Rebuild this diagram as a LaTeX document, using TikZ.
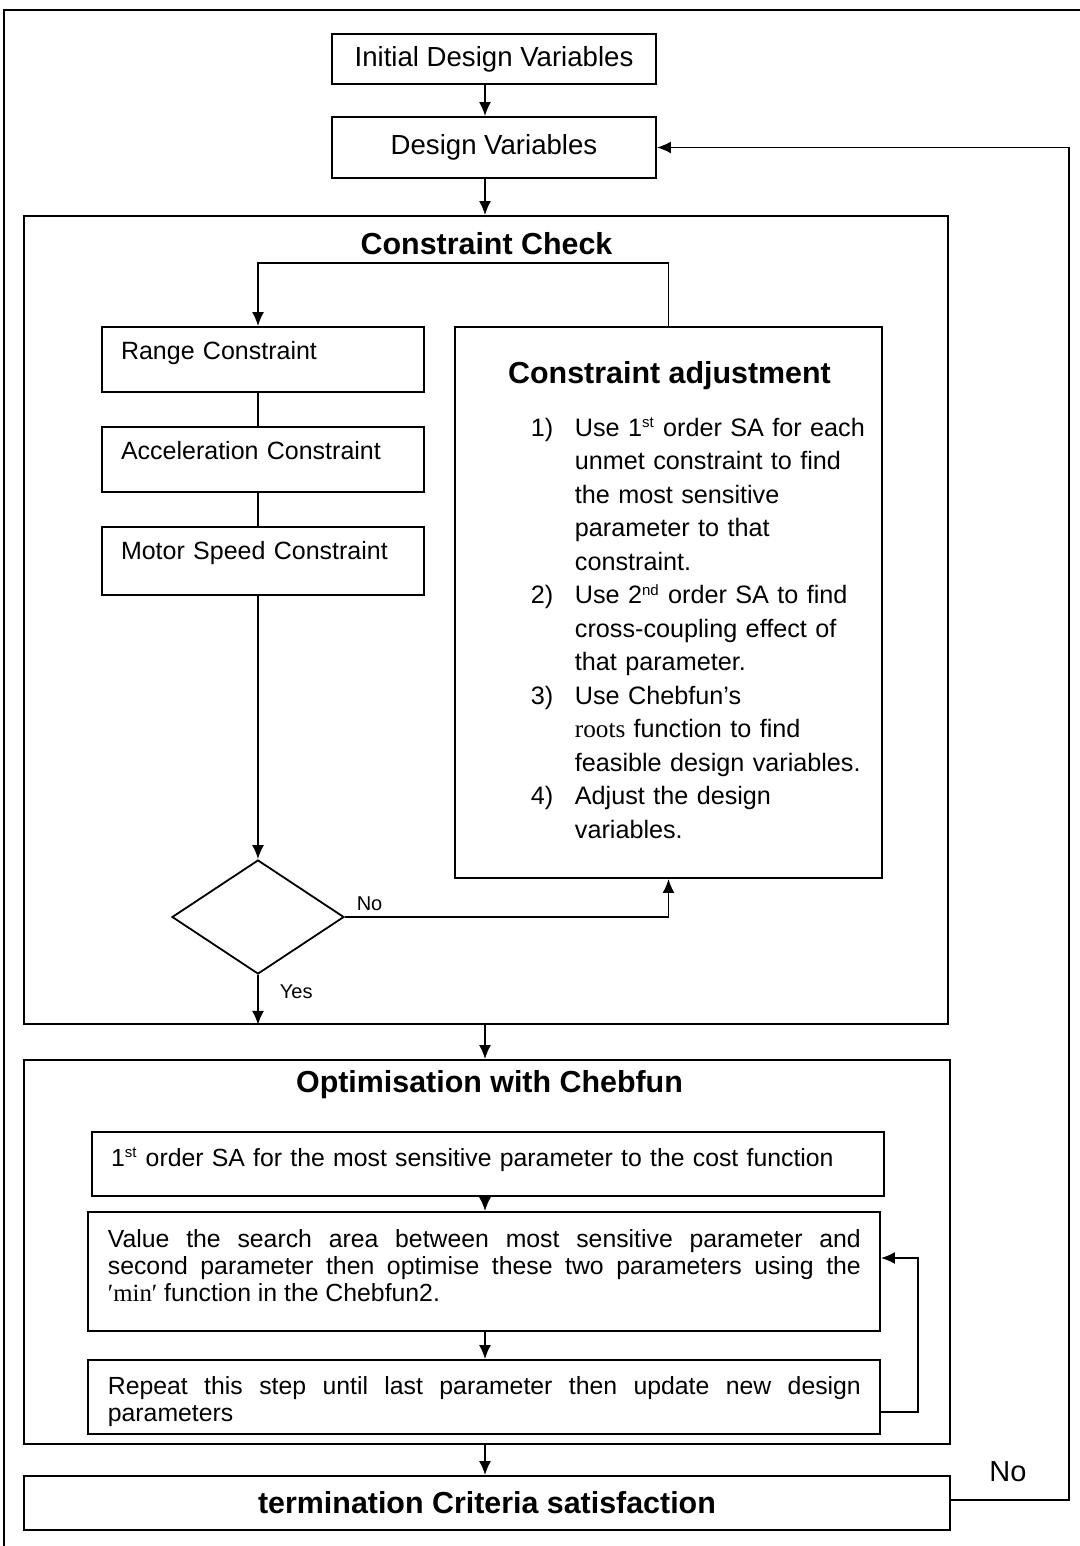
\documentclass[tikz,border=0pt]{standalone}
\usepackage{fontspec}
\setmainfont{Liberation Sans}
\newfontfamily\codefont{Liberation Serif}
\usetikzlibrary{shapes.geometric,arrows.meta}
\newcommand{\adjitem}[1]{\leavevmode\llap{\makebox[22pt][l]{#1}}}
\newcommand{\ordsuf}[1]{\textsuperscript{\fontsize{7.5}{8}\selectfont #1}}

\begin{document}
\begin{tikzpicture}[x=0.5pt,y=-0.5pt,
		line width=0.9pt,
		arr/.style={-{Latex[length=7pt,width=6pt]}},
		frame/.style={draw, inner sep=0pt},
		mainbox/.style={draw, minimum width=162pt, inner sep=0pt,
			font=\fontsize{13.8}{16}\selectfont},
		conbox/.style={draw, text width=142pt, align=left,
			inner xsep=9.5pt, inner ysep=0pt, text height=16pt,
			font=\fontsize{12.5}{15}\selectfont},
		head/.style={font=\bfseries\fontsize{15.2}{18}\selectfont},
		body/.style={font=\fontsize{12.4}{13.5}\selectfont, inner sep=0pt},
		yesno/.style={font=\fontsize{10}{12}\selectfont, inner sep=0pt}
	]
		\useasboundingbox (0,0) rectangle (1080,1546);
		% outer frame, only top and left edge
		\draw (4,1546) -- (4,10) -- (1080,10);
		% main flow line and lane of the checks
		\coordinate (spine) at (485,0);
		\coordinate (lane) at (258,0);

		% design variables
		\node[mainbox, minimum height=25pt] (init) at (494,59) {Initial Design Variables};
		\node[mainbox, minimum height=30.5pt] (design) at (494,147.5) {Design Variables};
		\draw[arr] (init.south -| spine) -- (design.north -| spine);

		% constraint check
		\node[frame, minimum width=462pt, minimum height=404pt] (ccframe) at (486,620) {};
		\node[head] (cctitle) at (486.5,244) {Constraint Check};
		\draw[arr] (design.south -| spine) -- (ccframe.north -| spine);

		\node[conbox, text depth=16.5pt] (range) at (263,359.5) {Range Constraint};
		\node[conbox, text depth=16.5pt] (accel) at (263,459.5) {Acceleration Constraint};
		\node[conbox, text depth=18pt] (motor) at (263,561) {Motor Speed Constraint};
		\draw (range.south -| lane) -- (accel.north -| lane);
		\draw (accel.south -| lane) -- (motor.north -| lane);

		% decision
		\node[draw, diamond, minimum width=86pt, minimum height=57pt,
		inner sep=0pt] (check) at (258,917) {};
		\draw[arr] (motor.south -| lane) -- (check.north);

		% constraint adjustment
		\node[frame, minimum width=213.5pt, minimum height=275.5pt] (adj) at (668.5,602.5) {};
		\node[head] (adjtitle) at (669.5,376) {Constraint adjustment};
		\node[font=\fontsize{12.6}{16.75}\selectfont, inner sep=0pt,
		text width=150pt, align=left, anchor=north west] (adjsteps) at (574,417) {%
			\adjitem{1)}Use 1\ordsuf{st} order SA for each\\
			unmet constraint to find\\
			the most sensitive\\
			parameter to that\\
			constraint.\\
			\adjitem{2)}Use 2\ordsuf{nd} order SA to find\\
			cross-coupling effect of\\
			that parameter.\\
			\adjitem{3)}Use Chebfun’s\\
			{\codefont roots} function to find\\
			feasible design variables.\\
			\adjitem{4)}Adjust the design\\
			variables.};
		\draw[arr] (adj.north) -- ++(0,-63) -| (range.north -| lane);

		% yes / no branches
		\draw[arr] (check.east) -| (adj.south);
		\node[yesno, anchor=base west] (nolabel) at ([xshift=5.5pt, yshift=3.4pt]check.east) {No};
		\draw[arr] (check.south) -- (check.south |- ccframe.south);
		\node[yesno, anchor=base west] (yeslabel) at ([xshift=10.5pt, yshift=-11.6pt]check.south) {Yes};

		% optimisation
		\node[frame, minimum width=463pt, minimum height=192pt] (optframe) at (487,1252) {};
		\draw[arr] (ccframe.south -| spine) -- (optframe.north -| spine);
		\node[head] (opttitle) at (489.5,1085) {Optimisation with Chebfun};

		\node[draw, body, text width=377pt, align=left, inner xsep=9.5pt,
		text height=17pt, text depth=15pt] (firstsa) at (488,1164)
		{1\ordsuf{st} order SA for the most sensitive parameter to the cost function};

		\node[frame, minimum width=396pt, minimum height=59.5pt] (search) at (484,1271.5) {};
		\node[body, text width=376.5pt, align=justify, anchor=north west] (searchtxt) at (107,1229)
		{Value the search area between most sensitive parameter and\linebreak
			second parameter then optimise these two parameters using the\linebreak
			{\codefont ′min′} function in the Chebfun2.};

		\node[frame, minimum width=396pt, minimum height=37pt] (repeat) at (484,1397) {};
		\node[body, text width=376.5pt, align=justify, anchor=north west] (repeattxt) at (107,1376)
		{Repeat this step until last parameter then update new design\linebreak
			parameters};

		\draw[arr] (firstsa.south -| spine) -- (search.north -| spine);
		\draw[arr] (search.south -| spine) -- (repeat.north -| spine);
		\draw[arr] ([yshift=-7.5pt]repeat.east) -- ++(37,0) |- ([yshift=6.75pt]search.east);

		% termination
		\node[draw, head, minimum width=463pt, minimum height=27pt] (term) at (487,1503)
		{termination Criteria satisfaction};
		\draw[arr] (optframe.south -| spine) -- (term.north -| spine);
		\draw[arr] ([yshift=1.5pt]term.east) -- ++(118,0) |- (design.east);
		\node[font=\fontsize{14.5}{17}\selectfont, inner sep=0pt] (nolabel2) at (1008,1472) {No};
\end{tikzpicture}
\end{document}
